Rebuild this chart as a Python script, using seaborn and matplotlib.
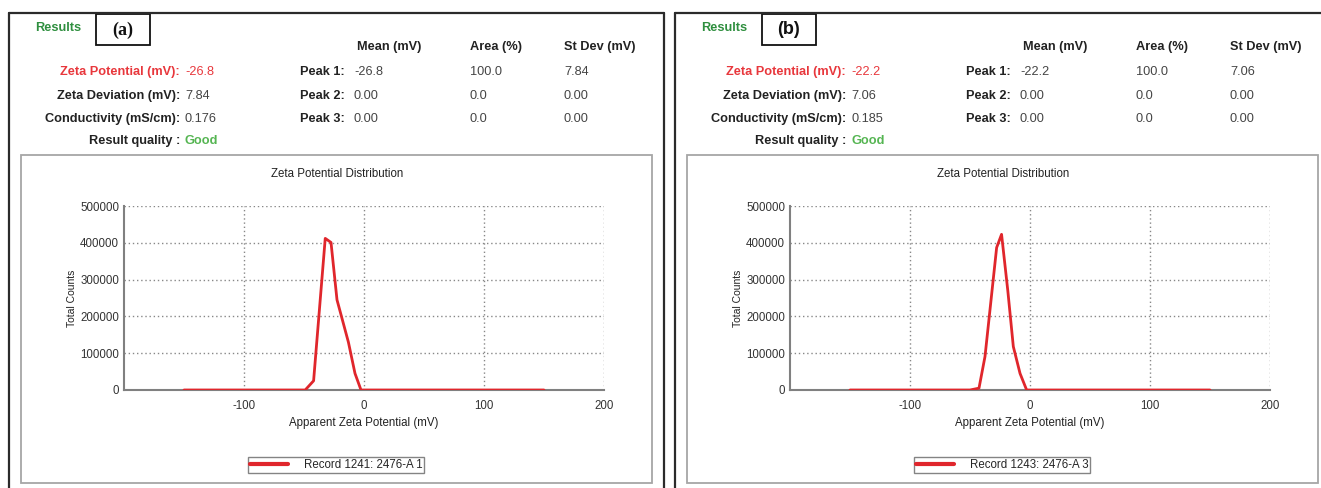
import matplotlib
matplotlib.use("Agg")
import matplotlib.pyplot as plt
import seaborn as sns
import pandas as pd
from matplotlib.patches import Rectangle
from matplotlib.lines import Line2D
from matplotlib.ticker import MultipleLocator, FixedLocator

# ---------------- data ----------------
x_a = [-150, -49, -42, -32.3, -27.5, -22.5, -13, -7.5, -2.5, 150]
y_a = [0, 0, 25000, 412000, 401000, 245000, 130000, 45000, 0, 0]
x_b = [-150, -50, -42.5, -37.5, -27.8, -23.7, -18.5, -13.9, -8.3, -2.8, 150]
y_b = [0, 0, 5000, 91000, 387000, 423000, 270000, 118000, 45000, 0, 0]

legend_labels = ["Record 1241: 2476-A 1", "Record 1243: 2476-A 3"]
panel_labels = ["(a)", "(b)"]
zeta_potential = ["-26.8", "-22.2"]
zeta_deviation = ["7.84", "7.06"]
conductivity = ["0.176", "0.185"]
result_quality = ["Good", "Good"]
peak_names = ["Peak 1:", "Peak 2:", "Peak 3:"]
peak_means = [["-26.8", "0.00", "0.00"], ["-22.2", "0.00", "0.00"]]
peak_areas = [["100.0", "0.0", "0.0"], ["100.0", "0.0", "0.0"]]
peak_sdevs = [["7.84", "0.00", "0.00"], ["7.06", "0.00", "0.00"]]
x_ticks = [-100, 0, 100, 200]
y_ticks = [0, 100000, 200000, 300000, 400000, 500000]

# ---------------- style ----------------
sns.set_theme(style="white")
plt.rcParams["font.family"] = ["Liberation Sans", "DejaVu Sans"]

W, H = 1321, 488
fig = plt.figure(figsize=(W / 100, H / 100), dpi=100)
fig.patch.set_facecolor("white")


def fx(px):
    return px / W


def fy(py):
    return 1 - py / H


RED = "#e0262c"
TXT_RED = "#e8373c"
GREEN_DARK = "#2f8f3f"
GREEN_LIGHT = "#55b552"
GRAY = "#808080"
DARK = "#222222"
VAL = "#444444"
FS = 9.2
FS2 = 8.3

datasets = [(x_a, y_a), (x_b, y_b)]

for i in range(2):
    off = 666 * i

    # outer panel border
    for (x0, y0, x1, y1) in [(9, 13, 9, 495), (9, 13, 664, 13), (664, 13, 664, 495)]:
        fig.add_artist(Line2D([fx(x0 + off), fx(x1 + off)], [fy(y0), fy(y1)],
                              color="#2b2b2b", lw=1.6, transform=fig.transFigure))
    # inner plot frame
    fig.add_artist(Rectangle((fx(21 + off), fy(483)), 631 / W, 328 / H, fill=False,
                             edgecolor="#a6a6a6", lw=1.3, transform=fig.transFigure))
    # panel label box
    fig.add_artist(Rectangle((fx(96 + off), fy(45)), 54 / W, 31 / H, fill=False,
                             edgecolor="#111111", lw=1.3, transform=fig.transFigure))
    fig.text(fx(123 + off), fy(30), panel_labels[i], ha="center", va="center",
             fontsize=13, fontweight="bold", color="#111111",
             family=["Liberation Serif"] if i == 0 else ["Liberation Sans"])

    fig.text(fx(35 + off), fy(28), "Results", ha="left", va="center", fontsize=FS,
             fontweight="bold", color=GREEN_DARK)

    # left info block
    rows = [("Zeta Potential (mV):", zeta_potential[i], TXT_RED, TXT_RED, 72),
            ("Zeta Deviation (mV):", zeta_deviation[i], DARK, VAL, 96),
            ("Conductivity (mS/cm):", conductivity[i], DARK, VAL, 119),
            ("Result quality :", result_quality[i], DARK, GREEN_LIGHT, 141)]
    for lab, val, c1, c2, yy in rows:
        fig.text(fx(180 + off), fy(yy), lab, ha="right", va="center", fontsize=FS,
                 fontweight="bold", color=c1)
        fig.text(fx(185 + off), fy(yy), val, ha="left", va="center", fontsize=FS,
                 color=c2, fontweight="bold" if lab.startswith("Result") else "normal")

    # peak table
    for hx, h in zip([357, 470, 564], ["Mean (mV)", "Area (%)", "St Dev (mV)"]):
        fig.text(fx(hx + off), fy(47), h, ha="left", va="center", fontsize=FS,
                 fontweight="bold", color=DARK)
    for k, yy in enumerate([72, 96, 119]):
        fig.text(fx(345 + off), fy(yy), peak_names[k], ha="right", va="center",
                 fontsize=FS, fontweight="bold", color=DARK)
        fig.text(fx(354 + off), fy(yy), peak_means[i][k], ha="left", va="center",
                 fontsize=FS, color=VAL)
        fig.text(fx(470 + off), fy(yy), peak_areas[i][k], ha="left", va="center",
                 fontsize=FS, color=VAL)
        fig.text(fx(564 + off), fy(yy), peak_sdevs[i][k], ha="left", va="center",
                 fontsize=FS, color=VAL)

    # chart title
    fig.text(fx(337 + off), fy(174), "Zeta Potential Distribution", ha="center",
             va="center", fontsize=FS2, color="#222222")

    # axes
    ax = fig.add_axes([fx(124 + off), fy(390), 480 / W, 184 / H])
    ax.set_facecolor("white")
    df = pd.DataFrame({"x": datasets[i][0], "y": datasets[i][1]})
    sns.lineplot(data=df, x="x", y="y", ax=ax, color=RED, lw=2.0, sort=False,
                 estimator=None, label=legend_labels[i], zorder=3)
    ax.set_xlim(-200, 200)
    ax.set_ylim(0, 500000)
    ax.xaxis.set_major_locator(FixedLocator(x_ticks))
    ax.xaxis.set_minor_locator(MultipleLocator(50))
    ax.yaxis.set_major_locator(FixedLocator(y_ticks))
    ax.yaxis.set_minor_locator(MultipleLocator(50000))
    ax.set_xticklabels([str(t) for t in x_ticks])
    ax.set_yticklabels([str(t) for t in y_ticks])
    ax.tick_params(axis="both", which="both", direction="inout", color=GRAY,
                   labelsize=FS2, labelcolor="#333333", width=1.0)
    ax.tick_params(axis="both", which="major", length=5, pad=4)
    ax.tick_params(axis="both", which="minor", length=5)
    ax.tick_params(axis="x", which="major", pad=5)
    ax.tick_params(axis="y", which="major", pad=1)
    for s in ["top", "right"]:
        ax.spines[s].set_visible(False)
    for s in ["left", "bottom"]:
        ax.spines[s].set_color(GRAY)
        ax.spines[s].set_linewidth(1.5)
    ax.grid(True, which="major", linestyle=(0, (1, 2)), color="#888888", lw=1.0)
    ax.set_axisbelow(True)
    ax.set_xlabel("Apparent Zeta Potential (mV)", fontsize=FS2, color="#222222")
    ax.set_ylabel("Total Counts", fontsize=7.5, color="#222222")
    ax.yaxis.set_label_coords(-(124 - 72) / 480, 0.5)
    ax.xaxis.set_label_coords(0.5, -(423 - 390) / 184)
    ax.xaxis.label.set_va("center")
    ax.yaxis.label.set_va("center")

    leg = ax.legend(loc="center", bbox_to_anchor=(fx(336 + off), fy(465)),
                    bbox_transform=fig.transFigure, fontsize=FS2, frameon=True,
                    fancybox=False, handlelength=3.3, handletextpad=1.4,
                    borderpad=0.15, borderaxespad=0)
    leg.get_frame().set_edgecolor("#666666")
    leg.get_frame().set_linewidth(1.0)
    for ln in leg.get_lines():
        ln.set_linewidth(3)

fig.savefig("out.png", dpi=100, facecolor="white")
